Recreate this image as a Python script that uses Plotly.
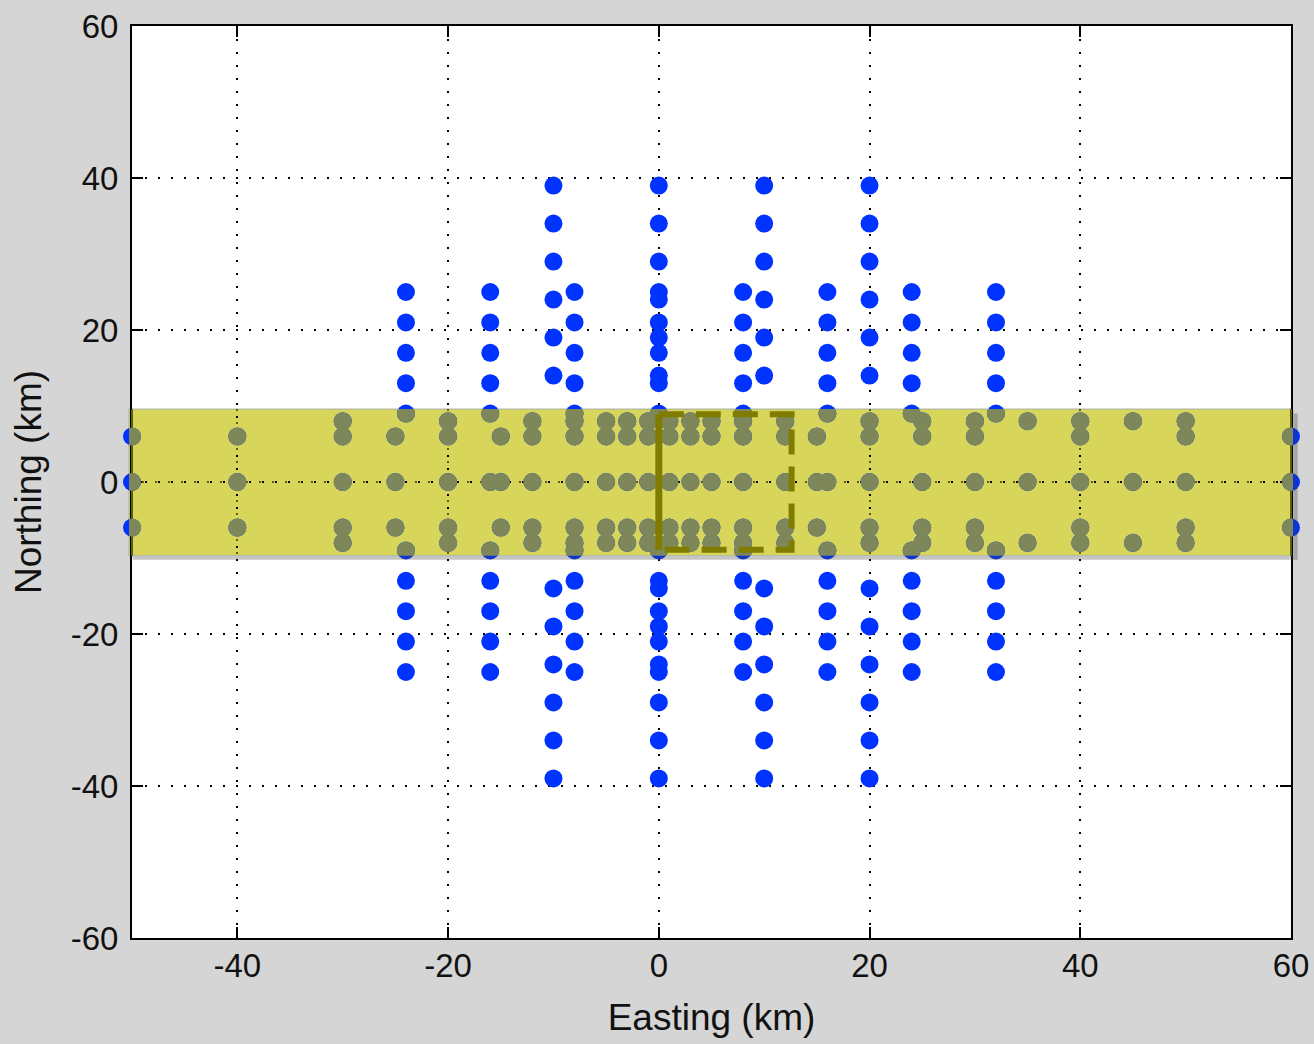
import plotly.graph_objects as go

# ---------------- data ----------------
# 8 km grid of stations (blue)
grid_x = [-24, -16, -8, 0, 8, 16, 24, 32]
grid_y = [-25, -21, -17, -13, -9, 9, 13, 17, 21, 25]
# 10 km columns of stations
col_x = [-10, 0, 10, 20]
col_y = [-39, -34, -29, -24, -19, -14, 14, 19, 24, 29, 34, 39]
# stations inside the highlighted band
band5_x = [-30, -20, -12, -8, -5, -3, -1, 1, 3, 5, 8, 12, 20, 25, 30, 40, 50]
band5_y = [-8, -6, 0, 6, 8]
band3_x = [-50, -40, -25, -15, 15, 60]
band3_y = [-6, 0, 6]
bandw_x = [35, 45]
bandw_y = [-8, 0, 8]
band0_x = [-16, 16]
band0_y = [0]

# highlighted band and dashed box (data units)
band_y = [-9.7, 9.6]
box_x = [0, 12.6]
box_y = [-8.9, 8.9]

x_range = [-50, 60]
y_range = [-60, 60]
x_ticks = [-40, -20, 0, 20, 40, 60]
x_ticktext = ["-40", "-20", "0", "20", "40", "60"]
y_ticks = [-60, -40, -20, 0, 20, 40, 60]
y_ticktext = ["-60", "-40", "-20", "0", "20", "40", "60"]

# ---------------- build point lists ----------------
xs, ys = [], []
for cx_list, cy_list in [(grid_x, grid_y), (col_x, col_y), (band5_x, band5_y),
                         (band3_x, band3_y), (bandw_x, bandw_y), (band0_x, band0_y)]:
    for cx in cx_list:
        for cy in cy_list:
            xs.append(cx)
            ys.append(cy)

BLUE = "#0033ff"
OLIVE_PT = "#7e8759"
YELLOW = "#d7d55a"
GRID_OLIVE = "#5e5e12"
FONT = "Liberation Sans, Arial, sans-serif"
MSIZE = 18

W, H = 1314, 1044
ML, MR, MT, MB = 129, 21, 26, 106
pw = W - ML - MR
xdom = [3 / pw, (pw - 2) / pw]
span = x_range[1] - x_range[0]
x2lo = x_range[0] - xdom[0] / (xdom[1] - xdom[0]) * span
x2hi = x_range[1] + (1 - xdom[1]) / (xdom[1] - xdom[0]) * span
ydom2 = [(band_y[0] - y_range[0]) / (y_range[1] - y_range[0]),
         (band_y[1] - y_range[0]) / (y_range[1] - y_range[0])]

fig = go.Figure()

# blue stations on main axes
fig.add_trace(go.Scatter(x=xs, y=ys, mode="markers", xaxis="x", yaxis="y",
                         marker=dict(size=MSIZE, color=BLUE, line=dict(width=0)),
                         cliponaxis=False, showlegend=False, hoverinfo="skip"))

# band subplot content (clipped to band)
fig.add_trace(go.Scatter(x=[x_range[0], x_range[0]], y=band_y, mode="lines",
                         xaxis="x2", yaxis="y2", line=dict(color=GRID_OLIVE, width=2),
                         showlegend=False, hoverinfo="skip"))
fig.add_trace(go.Scatter(x=[x_range[1], x_range[1]], y=band_y, mode="lines",
                         xaxis="x2", yaxis="y2", line=dict(color=GRID_OLIVE, width=2),
                         showlegend=False, hoverinfo="skip"))
fig.add_trace(go.Scatter(x=xs, y=ys, mode="markers", xaxis="x2", yaxis="y2",
                         marker=dict(size=MSIZE, color=OLIVE_PT, line=dict(width=0)),
                         showlegend=False, hoverinfo="skip"))
# dashed box
fig.add_trace(go.Scatter(x=[box_x[0], box_x[1], box_x[1], box_x[0]],
                         y=[box_y[1], box_y[1], box_y[0], box_y[0]],
                         mode="lines", xaxis="x2", yaxis="y2",
                         line=dict(color="#807c00", width=6, dash="25px,12px"),
                         showlegend=False, hoverinfo="skip"))
fig.add_trace(go.Scatter(x=[box_x[0], box_x[0]], y=[box_y[0], box_y[1]],
                         mode="lines", xaxis="x2", yaxis="y2",
                         line=dict(color="#807c00", width=7),
                         showlegend=False, hoverinfo="skip"))

axis_common = dict(
    showline=True, linecolor="black", linewidth=2, mirror="allticks",
    ticks="inside", ticklen=11, tickwidth=1.5, tickcolor="black",
    showgrid=True, gridcolor="black", gridwidth=1.5, griddash="2px,11px",
    zeroline=False, tickfont=dict(family=FONT, size=33, color="#111"),
)

fig.update_layout(
    width=W, height=H,
    margin=dict(l=ML, r=MR, t=MT, b=MB, autoexpand=False),
    paper_bgcolor="#d5d5d5",
    plot_bgcolor="rgba(0,0,0,0)",
    xaxis=dict(domain=xdom, range=x_range, tickmode="array", tickvals=x_ticks,
               ticktext=x_ticktext, anchor="y", ticklabelstandoff=-3,
               title=dict(text="Easting (km)", font=dict(family=FONT, size=37, color="#111"),
                          standoff=22),
               **axis_common),
    yaxis=dict(domain=[0, 1], range=y_range, tickmode="array", tickvals=y_ticks,
               ticktext=y_ticktext, anchor="x", ticklabelstandoff=5,
               title=dict(text="Northing (km)", font=dict(family=FONT, size=37, color="#111"),
                          standoff=18),
               **axis_common),
    xaxis2=dict(domain=[0, 1], range=[x2lo, x2hi], anchor="y2",
                tickmode="array", tickvals=[-40, -20, 0, 20, 40],
                showticklabels=False, ticks="", showline=False, zeroline=False,
                showgrid=True, gridcolor=GRID_OLIVE, gridwidth=1.5, griddash="2px,11px"),
    yaxis2=dict(domain=ydom2, range=band_y, anchor="x2",
                tickmode="array", tickvals=[0],
                showticklabels=False, ticks="", showline=False, zeroline=False,
                showgrid=True, gridcolor=GRID_OLIVE, gridwidth=1.5, griddash="2px,11px"),
    shapes=[
        dict(type="rect", xref="x domain", yref="y domain", x0=0, x1=1, y0=0, y1=1,
             fillcolor="white", line=dict(width=0), layer="below"),
        dict(type="rect", xref="x2 domain", yref="y2 domain", x0=0, x1=1, y0=0, y1=1,
             fillcolor=YELLOW, line=dict(width=1, color="#aab0aa"), layer="below"),
        dict(type="rect", xref="x2 domain", yref="y2 domain", x0=0.003, x1=1.004,
             y0=-0.028, y1=-0.004, fillcolor="rgba(60,60,60,0.30)", line=dict(width=0),
             layer="above"),
        dict(type="rect", xref="x2 domain", yref="y2 domain", x0=1.0006, x1=1.004,
             y0=-0.004, y1=0.97, fillcolor="rgba(60,60,60,0.30)", line=dict(width=0),
             layer="above"),
    ],
)

fig.write_html("out.html")
